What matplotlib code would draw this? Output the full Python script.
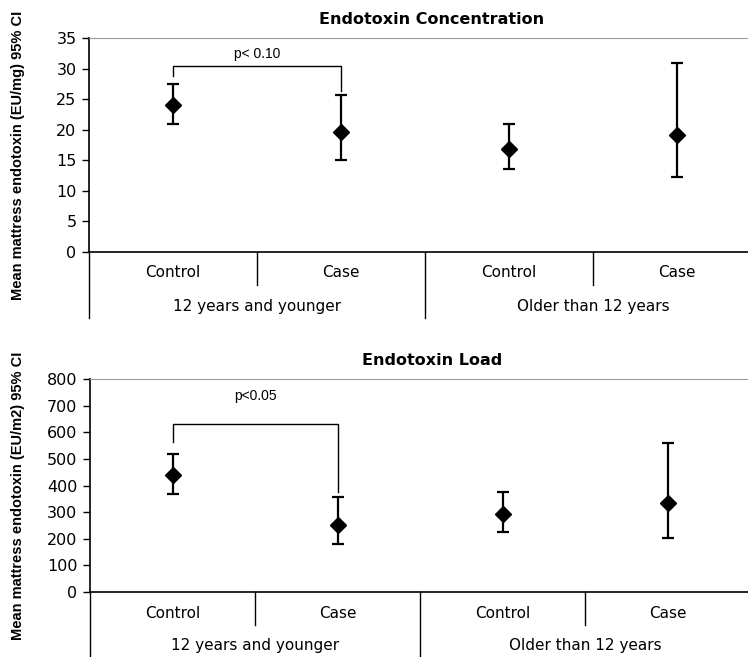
import matplotlib
matplotlib.use('Agg')
import matplotlib.pyplot as plt
import numpy as np

# categories
cats = ["Control", "Case", "Control", "Case"]
groups = ["12 years and younger", "Older than 12 years"]

# Endotoxin concentration (EU/mg): mean, lower CI, upper CI
conc_mean = [24.0, 19.6, 16.9, 19.2]
conc_lo = [20.9, 15.1, 13.5, 12.2]
conc_hi = [27.5, 25.6, 20.9, 30.9]

# Endotoxin load (EU/m2)
load_mean = [438, 252, 294, 336]
load_lo = [369, 182, 227, 201]
load_hi = [520, 356, 376, 558]

plt.rcParams['font.family'] = ['DejaVu Sans']

fig = plt.figure(figsize=(7.48, 6.57), dpi=100)


def draw_panel(ax, mean, lo, hi, ymax, ystep, title, ylabel, ylab_y, ptext, bracket, ptext_y,
               xmax, div_short, div_long, lab_y, grp_y):
    mean = np.array(mean, dtype=float)
    x = np.arange(len(mean))
    yerr = [mean - np.array(lo), np.array(hi) - mean]
    ax.errorbar(x, mean, yerr=yerr, fmt='D', color='black', ms=8, elinewidth=1.6,
                capsize=4.5, capthick=1.6, mec='black', mfc='black')
    ax.set_xlim(-0.5, xmax)
    ax.set_ylim(0, ymax)
    ax.set_yticks(np.arange(0, ymax + 1, ystep))
    ax.set_xticks([])
    ax.tick_params(axis='y', direction='out', length=5, width=1, labelsize=11.5, pad=4)
    ax.spines['right'].set_visible(False)
    ax.spines['top'].set_color('#9a9a9a')
    ax.spines['left'].set_linewidth(1.2)
    ax.spines['bottom'].set_linewidth(1.2)
    ax.set_title(title, fontsize=11.5, fontweight='bold', pad=10, x=0.52)
    ax.set_ylabel(ylabel, fontsize=10.5, fontweight='bold', family='Liberation Sans',
                  va='center')
    ax.yaxis.set_label_coords(18 / 748, ylab_y, transform=fig.transFigure)

    # significance bracket
    bl, top, br = bracket
    ax.plot([0, 0, 1, 1], [bl, top, top, br], color='black', lw=1.0)
    ax.text(0.5, ptext_y, ptext, ha='center', va='center', fontsize=10,
            family='Liberation Sans')

    # category axis with group dividers
    tr = ax.get_xaxis_transform()
    for xd, ylow in [(-0.5, div_long), (0.5, div_short), (1.5, div_long), (2.5, div_short)]:
        ax.plot([xd, xd], [0, ylow], transform=tr, color='black', lw=1.0, clip_on=False)
    for i, c in enumerate(cats):
        ax.text(i, lab_y, c, transform=tr, ha='center', va='center', fontsize=11)
    for j, g in enumerate(groups):
        ax.text(2 * j + 0.5, grp_y, g, transform=tr, ha='center', va='center', fontsize=11)


ax1 = fig.add_axes([89 / 748, 1 - 252 / 657, (748 - 89) / 748, 214 / 657])
draw_panel(ax1, conc_mean, conc_lo, conc_hi, 35, 5, "Endotoxin Concentration",
           "Mean mattress endotoxin (EU/mg) 95% CI", 1 - 155 / 657,
           "p< 0.10", (28.8, 30.5, 26.4), 32.4,
           -0.5 + 659 / 168, -0.154, -0.308, -0.098, -0.257)

ax2 = fig.add_axes([90 / 748, 1 - 592 / 657, (748 - 90) / 748, 213 / 657])
draw_panel(ax2, load_mean, load_lo, load_hi, 800, 100, "Endotoxin Load",
           "Mean mattress endotoxin (EU/m2) 95% CI", 1 - 496 / 657,
           "p<0.05", (565, 630, 377), 737,
           -0.5 + 658 / 165, -0.155, -0.32, -0.099, -0.249)

plt.savefig('out.png', dpi=100)
